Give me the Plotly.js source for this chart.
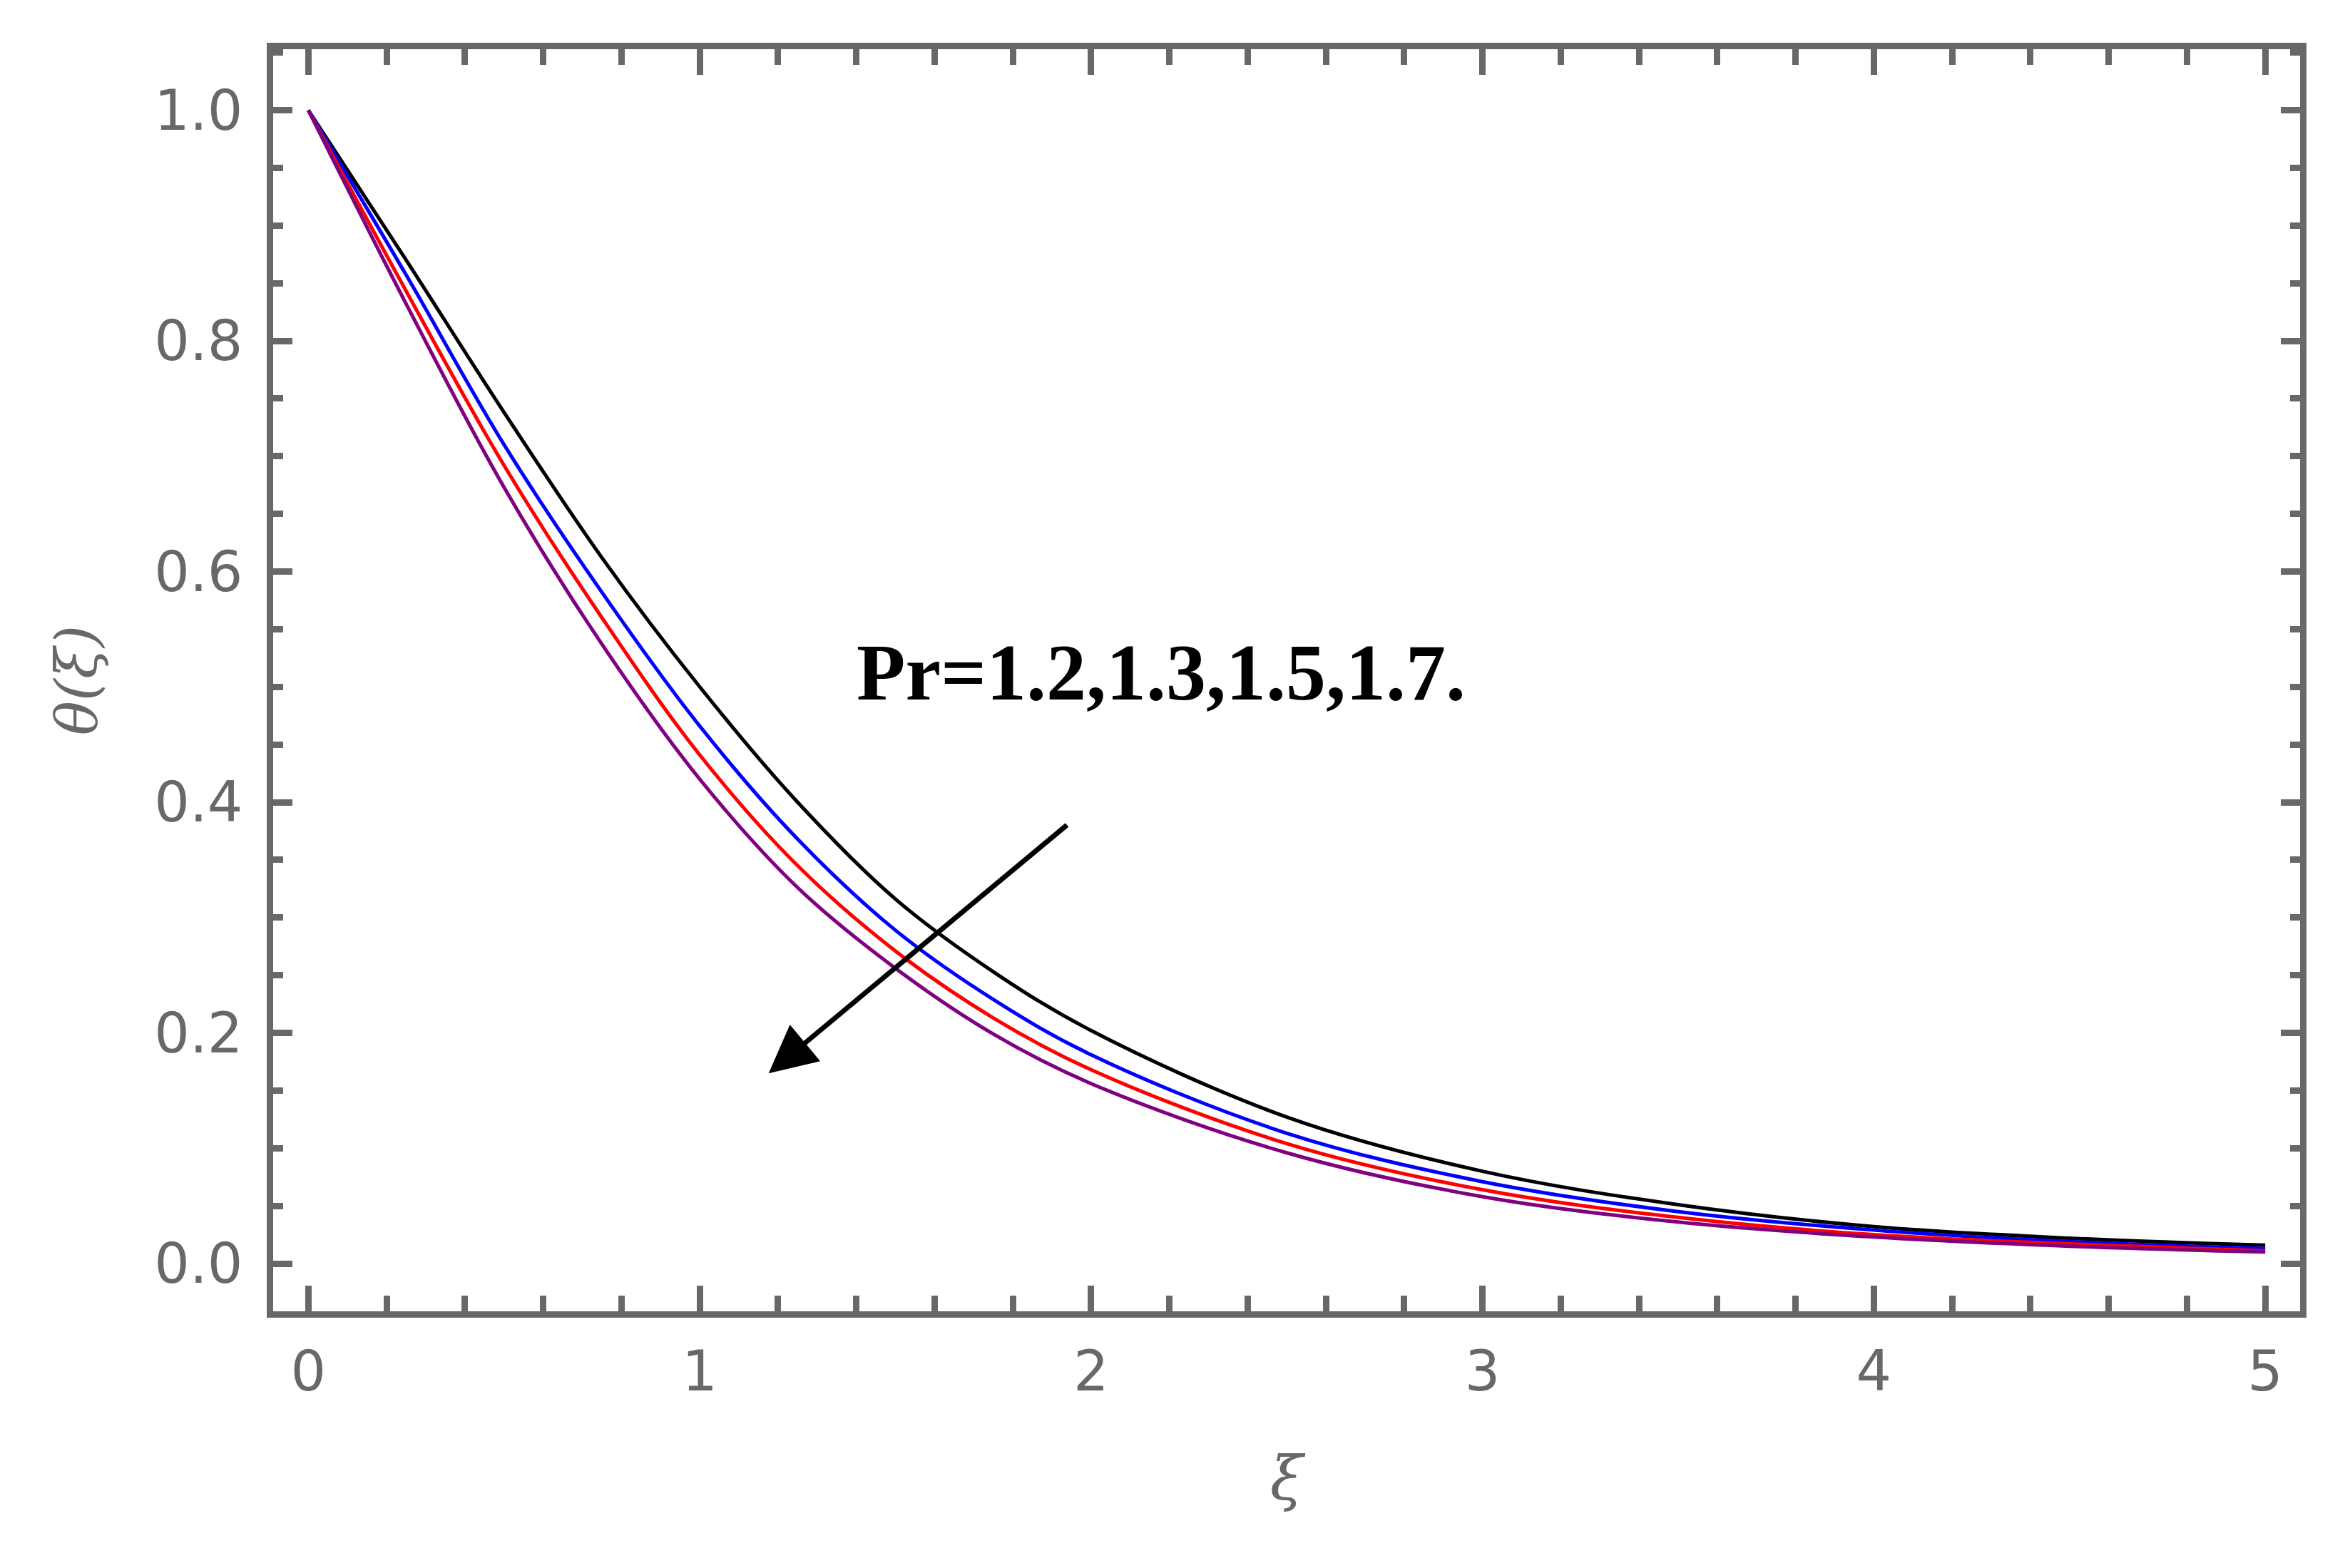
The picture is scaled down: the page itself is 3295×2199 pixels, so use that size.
<!DOCTYPE html>
<html>
<head>
<meta charset="utf-8">
<script src="https://cdn.plot.ly/plotly-3.0.1.min.js"></script>
<style>
    body { margin: 0; background: #fff; }
    #chart { width: 3295px; height: 2199px; }
</style>
</head>
<body>
<div id="chart"></div>
<script>
// Temperature profiles theta(xi) for several Prandtl numbers
const xi = [0, 0.25, 0.5, 0.75, 1, 1.25, 1.5, 1.75, 2, 2.5, 3, 3.5, 4, 4.5, 5];
const thetaPr12 = [1.0, 0.870, 0.738, 0.612, 0.500, 0.400, 0.316, 0.253, 0.202, 0.127, 0.080, 0.051, 0.032, 0.022, 0.016];
const thetaPr13 = [1.0, 0.857, 0.710, 0.582, 0.466, 0.368, 0.289, 0.229, 0.181, 0.113, 0.071, 0.045, 0.029, 0.019, 0.013];
const thetaPr15 = [1.0, 0.843, 0.692, 0.560, 0.441, 0.345, 0.271, 0.213, 0.168, 0.104, 0.064, 0.040, 0.025, 0.017, 0.011];
const thetaPr17 = [1.0, 0.832, 0.673, 0.537, 0.420, 0.326, 0.256, 0.199, 0.156, 0.096, 0.058, 0.036, 0.023, 0.015, 0.010];

const seriesNames = ['Pr=1.2', 'Pr=1.3', 'Pr=1.5', 'Pr=1.7'];
const seriesValues = [thetaPr12, thetaPr13, thetaPr15, thetaPr17];
const seriesColors = ['#000000', '#0000ff', '#ff0000', '#800080'];

const labelText = 'Pr=1.2,1.3,1.5,1.7.';
const frameColor = '#686868';

function buildTraces() {
    return seriesValues.map((vals, i) => ({
        x: xi,
        y: vals,
        name: seriesNames[i],
        type: 'scatter',
        mode: 'lines',
        line: { color: seriesColors[i], width: 5, shape: 'spline', smoothing: 1 }
    }));
}

function axisBase(majorLen) {
    return {
        showline: true,
        linecolor: frameColor,
        linewidth: 9,
        mirror: 'allticks',
        ticks: 'inside',
        ticklen: majorLen,
        tickwidth: 9,
        tickcolor: frameColor,
        showgrid: false,
        zeroline: false,
        tickfont: { family: 'DejaVu Sans', size: 78, color: frameColor }
    };
}

const xaxis = Object.assign(axisBase(36), {
    range: [-0.09, 5.089],
    tick0: 0,
    dtick: 1,
    ticklabelstandoff: 8,
    minor: { dtick: 0.2, ticks: 'inside', ticklen: 22, tickwidth: 9, tickcolor: frameColor },
    title: {
        text: 'ξ',
        standoff: 80,
        font: { family: 'DejaVu Serif', size: 84, color: frameColor, style: 'italic' }
    }
});

const yaxis = Object.assign(axisBase(27), {
    range: [-0.0414, 1.0529],
    tick0: 0,
    dtick: 0.2,
    tickformat: '.1f',
    ticklabelstandoff: 18,
    minor: { dtick: 0.05, ticks: 'inside', ticklen: 14, tickwidth: 9, tickcolor: frameColor },
    title: {
        text: 'θ(ξ)',
        standoff: 58,
        font: { family: 'DejaVu Serif', size: 80, color: frameColor, style: 'italic' }
    }
});

const layout = {
    width: 3295,
    height: 2199,
    paper_bgcolor: '#ffffff',
    plot_bgcolor: '#ffffff',
    showlegend: false,
    margin: { l: 383, r: 70, t: 69, b: 360 },
    xaxis: xaxis,
    yaxis: yaxis,
    annotations: [
        {
            // parameter label
            x: 2.178, y: 0.5125, xref: 'x', yref: 'y',
            text: labelText,
            showarrow: false,
            xanchor: 'center', yanchor: 'middle',
            font: { family: 'Liberation Serif', size: 112, color: '#000000', weight: 'bold' }
        },
        {
            // arrow showing increasing Pr
            x: 1.176, y: 0.165, xref: 'x', yref: 'y',
            ax: 1.941, ay: 0.381, axref: 'x', ayref: 'y',
            text: '',
            showarrow: true,
            arrowhead: 2,
            arrowsize: 1.9,
            arrowwidth: 7,
            arrowcolor: '#000000'
        }
    ]
};

Plotly.newPlot('chart', buildTraces(), layout, { displayModeBar: false, staticPlot: true });
</script>
</body>
</html>
